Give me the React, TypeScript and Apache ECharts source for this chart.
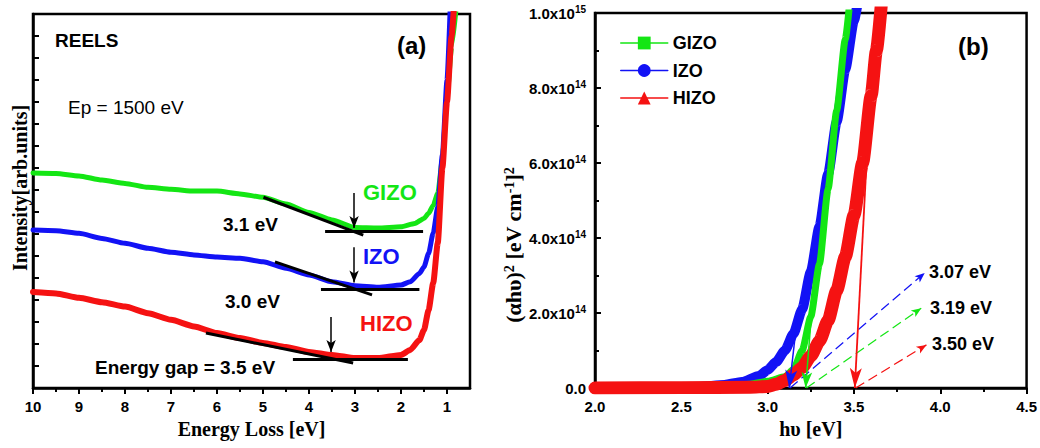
import React, { useEffect, useRef } from 'react';
import * as echarts from 'echarts';

const SANS = "'Liberation Sans', Arial, Helvetica, sans-serif";
const SERIF = "'Liberation Serif', 'Times New Roman', Times, serif";

// ---------- Panel (a): REELS spectra ----------
const reelsTicks = [1, 2, 3, 4, 5, 6, 7, 8, 9, 10];
const reelsMinorTicks = [1.5, 2.5, 3.5, 4.5, 5.5, 6.5, 7.5, 8.5, 9.5];

const gizoReels: number[][] = [
  [10, 9.77], [9.5, 9.75], [9, 9.64], [8.5, 9.45], [8, 9.3], [7.5, 9.12], [7, 9.03], [6.5, 8.95],
  [6, 8.95], [5.5, 8.82], [5, 8.67], [4.5, 8.36], [4, 7.98], [3.5, 7.64], [3, 7.29], [2.5, 7.27],
  [2, 7.33], [1.7, 7.48], [1.5, 7.71], [1.4, 7.94], [1.3, 8.3], [1.2, 8.85], [1.1, 10.4],
  [1.0, 13.2], [0.9, 15.5], [0.8, 17.3],
];
const izoReels: number[][] = [
  [10, 7.18], [9.5, 7.15], [9, 7.03], [8.5, 6.8], [8, 6.58], [7.5, 6.35], [7, 6.17], [6.5, 6.05],
  [6, 5.95], [5.5, 5.9], [5, 5.74], [4.5, 5.44], [4, 5.14], [3.5, 4.83], [3, 4.65], [2.5, 4.58],
  [2, 4.68], [1.8, 4.83], [1.6, 5.21], [1.5, 5.5], [1.4, 6.12], [1.3, 7.05], [1.2, 8.24],
  [1.1, 10.6], [1.0, 14.0], [0.93, 17.3],
];
const hizoReels: number[][] = [
  [10, 4.36], [9.5, 4.3], [9, 4.1], [8.5, 3.9], [8, 3.7], [7.5, 3.4], [7, 3.1], [6.5, 2.8],
  [6, 2.5], [5.5, 2.27], [5, 2.05], [4.5, 1.86], [4, 1.64], [3.5, 1.5], [3, 1.36], [2.5, 1.36],
  [2, 1.5], [1.8, 1.73], [1.6, 2.18], [1.5, 2.64], [1.4, 3.55], [1.3, 4.77], [1.2, 6.6],
  [1.1, 10.0], [1.0, 13.0], [0.9, 16.0], [0.85, 17.3],
];

// tangent lines, baselines and arrows of panel (a): [from, to]
const gizoTangent = [[4.99, 8.67], [2.82, 6.95]];
const gizoBase = [[3.65, 7.14], [1.52, 7.14]];
const gizoArrow = [[3.02, 8.86], [3.02, 7.27]];
const izoTangent = [[4.74, 5.73], [2.63, 4.23]];
const izoBase = [[3.74, 4.5], [1.6, 4.5]];
const izoArrow = [[3.02, 6.4], [3.02, 4.8]];
const hizoTangent = [[6.24, 2.5], [3.04, 1.14]];
const hizoBase = [[4.35, 1.32], [1.85, 1.32]];
const hizoArrow = [[3.52, 3.23], [3.52, 1.64]];

// ---------- Panel (b): Tauc plot ----------
const E15 = 1e15;
const izoTauc: number[][] = [
  [2.0, 0], [2.3, 0.001], [2.6, 0.003], [2.75, 0.008], [2.85, 0.016], [2.95, 0.032], [3.0, 0.048],
  [3.05, 0.07], [3.1, 0.1], [3.15, 0.145], [3.2, 0.21], [3.25, 0.31], [3.3, 0.43], [3.35, 0.57],
  [3.4, 0.71], [3.45, 0.85], [3.5, 0.98], [3.53, 1.05],
].map(([x, y]) => [x, y * E15]);
const gizoTauc: number[][] = [
  [2.0, 0], [2.5, 0.001], [2.75, 0.004], [2.9, 0.01], [3.0, 0.018], [3.1, 0.03], [3.15, 0.05],
  [3.2, 0.1], [3.25, 0.19], [3.3, 0.33], [3.35, 0.53], [3.4, 0.74], [3.45, 0.93], [3.48, 1.05],
].map(([x, y]) => [x, y * E15]);
const hizoTauc: number[][] = [
  [2.0, 0], [2.5, 0.001], [2.9, 0.002], [3.0, 0.004], [3.05, 0.01], [3.1, 0.02], [3.15, 0.035],
  [3.2, 0.055], [3.25, 0.085], [3.3, 0.125], [3.35, 0.18], [3.4, 0.26], [3.45, 0.35], [3.5, 0.46],
  [3.55, 0.6], [3.6, 0.78], [3.63, 0.9], [3.66, 1.03],
].map(([x, y]) => [x, y * E15]);

const izoFit = [[3.175, 0.2 * E15], [3.125, 0]];
const gizoFit = [[3.265, 0.26 * E15], [3.22, 0]];
const hizoFit = [[3.575, 0.62 * E15], [3.505, 0]];
const izoPointer = [[3.13, 0], [3.91, 0.307 * E15]];
const gizoPointer = [[3.225, 0], [3.89, 0.213 * E15]];
const hizoPointer = [[3.51, 0], [3.92, 0.115 * E15]];

const tickLabelsA = reelsTicks.map(String);
const gapLabels = ['3.07 eV', '3.19 eV', '3.50 eV'];
const legendNames = ['GIZO', 'IZO', 'HIZO'];

const GREEN = '#14e614';
const BLUE = '#1212f5';
const RED = '#f51212';

function seg(pts: number[][], color: string, width: number, type: any, arrow: boolean, size: number[] = [7, 12]) {
  return [
    { coord: pts[0], symbol: 'none', lineStyle: { color, width, type } },
    { coord: pts[1], symbol: arrow ? 'arrow' : 'none', symbolSize: size, itemStyle: { color } },
  ];
}

function markLines(items: any[]) {
  return {
    silent: true,
    z: 6,
    symbol: ['none', 'none'],
    label: { show: false },
    emphasis: { disabled: true },
    animation: false,
    data: items,
  };
}

const boldSans = (size: number, color = '#000') => ({
  fontFamily: SANS,
  fontWeight: 'bold',
  fontSize: size,
  fill: color,
});

export default function App() {
  const ref = useRef<HTMLDivElement>(null);

  useEffect(() => {
    if (!ref.current) return;
    const chart = echarts.init(ref.current, null, { renderer: 'svg' });

    const axisLine = { onZero: false, lineStyle: { color: '#000', width: 2.5 } };
    const tickStyle = { color: '#000', width: 2 };

    const option: any = {
      animation: false,
      backgroundColor: '#fff',
      grid: [
        { left: 33, top: 14, width: 437, height: 374, show: true, borderColor: '#000', borderWidth: 2.5, backgroundColor: 'transparent' },
        { left: 595, top: 13, width: 434, height: 375, show: true, borderColor: '#000', borderWidth: 2.5, backgroundColor: 'transparent' },
      ],
      xAxis: [
        {
          gridIndex: 0, type: 'value', inverse: true, min: 0.5, max: 10, position: 'bottom',
          axisLine,
          axisTick: { customValues: reelsTicks, length: 6, lineStyle: tickStyle },
          axisLabel: {
            customValues: reelsTicks, margin: 11, color: '#000', fontFamily: SANS, fontWeight: 'bold', fontSize: 15,
            formatter: (v: number) => tickLabelsA[reelsTicks.indexOf(v)] ?? String(v),
          },
          splitLine: { show: false },
          name: 'Energy Loss [eV]', nameLocation: 'middle', nameGap: 31,
          nameTextStyle: { fontFamily: SERIF, fontWeight: 'bold', fontSize: 20, color: '#000' },
        },
        {
          gridIndex: 0, type: 'value', inverse: true, min: 0.5, max: 10, position: 'bottom',
          axisLine: { show: false, onZero: false },
          axisTick: { customValues: reelsMinorTicks, length: 4, lineStyle: tickStyle },
          axisLabel: { show: false },
          splitLine: { show: false },
        },
        {
          gridIndex: 1, type: 'value', min: 2, max: 4.5, interval: 0.5, position: 'bottom',
          axisLine,
          axisTick: { length: 6, lineStyle: tickStyle },
          minorTick: { show: true, splitNumber: 2, length: 4, lineStyle: tickStyle },
          axisLabel: {
            margin: 11, color: '#000', fontFamily: SANS, fontWeight: 'bold', fontSize: 15,
            formatter: (v: number) => v.toFixed(1),
          },
          splitLine: { show: false },
          name: 'h\u03C5 [eV]', nameLocation: 'middle', nameGap: 31,
          nameTextStyle: { fontFamily: SERIF, fontWeight: 'bold', fontSize: 20, color: '#000' },
        },
      ],
      yAxis: [
        {
          gridIndex: 0, type: 'value', min: 0, max: 17, interval: 1,
          axisLine,
          axisTick: { inside: true, length: 6, lineStyle: tickStyle },
          axisLabel: { show: false },
          splitLine: { show: false },
        },
        {
          gridIndex: 1, type: 'value', min: 0, max: 1e15, interval: 2e14,
          axisLine,
          axisTick: { inside: true, length: 6, lineStyle: tickStyle },
          minorTick: { show: true, splitNumber: 2, length: 4, lineStyle: tickStyle },
          axisLabel: {
            margin: 9,
            formatter: (v: number) => {
              if (v === 0) return '{m|0.0}';
              const e = Math.floor(Math.log10(v) + 1e-9);
              const m = v / Math.pow(10, e);
              return `{m|${m.toFixed(1)}x10}{s|${e}}`;
            },
            rich: {
              m: { fontFamily: SANS, fontWeight: 'bold', fontSize: 15, color: '#000', lineHeight: 18 },
              s: { fontFamily: SANS, fontWeight: 'bold', fontSize: 10, color: '#000', lineHeight: 8, verticalAlign: 'top' },
            },
          },
          splitLine: { show: false },
        },
      ],
      legend: {
        data: legendNames,
        orient: 'vertical',
        left: 615,
        top: 29,
        itemWidth: 47,
        itemHeight: 16,
        itemGap: 9.5,
        selectedMode: false,
        lineStyle: { width: 1.5 },
        textStyle: { fontFamily: SANS, fontWeight: 'bold', fontSize: 18, color: '#000', lineHeight: 16 },
      },
      series: [
        {
          name: 'GIZO (REELS)', type: 'line', xAxisIndex: 0, yAxisIndex: 0, data: gizoReels,
          showSymbol: false, smooth: 0.2, smoothMonotone: 'x', color: GREEN,
          lineStyle: { color: GREEN, width: 5, cap: 'round', join: 'round' },
          markLine: markLines([
            seg(gizoTangent, '#000', 3, 'solid', false),
            seg(gizoBase, '#000', 3, 'solid', false),
            seg(gizoArrow, '#000', 1.5, 'solid', true),
          ]),
        },
        {
          name: 'IZO (REELS)', type: 'line', xAxisIndex: 0, yAxisIndex: 0, data: izoReels,
          showSymbol: false, smooth: 0.2, smoothMonotone: 'x', color: BLUE,
          lineStyle: { color: BLUE, width: 5, cap: 'round', join: 'round' },
          markLine: markLines([
            seg(izoTangent, '#000', 3, 'solid', false),
            seg(izoBase, '#000', 3, 'solid', false),
            seg(izoArrow, '#000', 1.5, 'solid', true),
          ]),
        },
        {
          name: 'HIZO (REELS)', type: 'line', xAxisIndex: 0, yAxisIndex: 0, data: hizoReels,
          showSymbol: false, smooth: 0.2, smoothMonotone: 'x', color: RED,
          lineStyle: { color: RED, width: 6, cap: 'round', join: 'round' },
          markLine: markLines([
            seg(hizoTangent, '#000', 3, 'solid', false),
            seg(hizoBase, '#000', 3, 'solid', false),
            seg(hizoArrow, '#000', 1.5, 'solid', true),
          ]),
        },
        {
          name: 'IZO', type: 'line', xAxisIndex: 2, yAxisIndex: 1, data: izoTauc,
          showSymbol: false, symbol: 'circle', smooth: 0.2, smoothMonotone: 'x', color: BLUE,
          itemStyle: { color: BLUE },
          lineStyle: { color: BLUE, width: 10, cap: 'round', join: 'round' },
          markLine: markLines([
            seg(izoFit, BLUE, 1.5, 'solid', true, [9, 18]),
            seg(izoPointer, BLUE, 1.2, [10, 5], true, [6, 10]),
          ]),
        },
        {
          name: 'GIZO', type: 'line', xAxisIndex: 2, yAxisIndex: 1, data: gizoTauc,
          showSymbol: false, symbol: 'rect', smooth: 0.2, smoothMonotone: 'x', color: GREEN,
          itemStyle: { color: GREEN },
          lineStyle: { color: GREEN, width: 7, cap: 'round', join: 'round' },
          markLine: markLines([
            seg(gizoFit, GREEN, 1.5, 'solid', true, [8, 16]),
            seg(gizoPointer, GREEN, 1.2, [10, 5], true, [6, 10]),
          ]),
        },
        {
          name: 'HIZO', type: 'line', xAxisIndex: 2, yAxisIndex: 1, data: hizoTauc,
          showSymbol: false, symbol: 'triangle', smooth: 0.2, smoothMonotone: 'x', color: RED,
          itemStyle: { color: RED },
          lineStyle: { color: RED, width: 13, cap: 'round', join: 'round' },
          markLine: markLines([
            seg(hizoFit, RED, 1.8, 'solid', true, [9, 20]),
            seg(hizoPointer, RED, 1.2, [10, 5], true, [6, 10]),
          ]),
        },
      ],
      graphic: [
        {
          type: 'text', x: 20, y: 188, rotation: Math.PI / 2, silent: true,
          style: { text: 'Intensity[arb.units]', fontFamily: SERIF, fontWeight: 'bold', fontSize: 20, fill: '#000', align: 'center', verticalAlign: 'middle' },
        },
        {
          type: 'text', x: 513, y: 245, rotation: Math.PI / 2, silent: true,
          style: {
            text: '(\u03B1h\u03C5){s|2} [eV cm{s|-1}]{s|2}',
            fontFamily: SERIF, fontWeight: 'bold', fontSize: 22, fill: '#000', align: 'center', verticalAlign: 'middle',
            rich: {
              s: { fontFamily: SERIF, fontWeight: 'bold', fontSize: 14, fill: '#000', lineHeight: 12, verticalAlign: 'top' },
            },
          },
        },
        { type: 'text', x: 55, y: 40, silent: true, style: { text: 'REELS', ...boldSans(19), verticalAlign: 'middle' } },
        { type: 'text', x: 397, y: 45, silent: true, style: { text: '(a)', ...boldSans(24), verticalAlign: 'middle' } },
        { type: 'text', x: 68, y: 107, silent: true, style: { text: 'Ep = 1500 eV', fontFamily: SANS, fontSize: 19, fill: '#000', verticalAlign: 'middle' } },
        { type: 'text', x: 363, y: 192, silent: true, style: { text: 'GIZO', ...boldSans(22, GREEN), verticalAlign: 'middle' } },
        { type: 'text', x: 363, y: 256, silent: true, style: { text: 'IZO', ...boldSans(22, BLUE), verticalAlign: 'middle' } },
        { type: 'text', x: 360, y: 323, silent: true, style: { text: 'HIZO', ...boldSans(22, RED), verticalAlign: 'middle' } },
        { type: 'text', x: 223, y: 224, silent: true, style: { text: '3.1 eV', ...boldSans(19), verticalAlign: 'middle' } },
        { type: 'text', x: 225, y: 301, silent: true, style: { text: '3.0 eV', ...boldSans(19), verticalAlign: 'middle' } },
        { type: 'text', x: 95, y: 367, silent: true, style: { text: 'Energy gap = 3.5 eV', ...boldSans(19), verticalAlign: 'middle' } },
        { type: 'text', x: 958, y: 46, silent: true, style: { text: '(b)', ...boldSans(24), verticalAlign: 'middle' } },
        { type: 'text', x: 929, y: 272, silent: true, style: { text: gapLabels[0], ...boldSans(18), verticalAlign: 'middle' } },
        { type: 'text', x: 930, y: 308, silent: true, style: { text: gapLabels[1], ...boldSans(18), verticalAlign: 'middle' } },
        { type: 'text', x: 932, y: 344, silent: true, style: { text: gapLabels[2], ...boldSans(18), verticalAlign: 'middle' } },
      ],
    };

    chart.setOption(option);
    return () => chart.dispose();
  }, []);

  return (
    <div
      ref={ref}
      style={{ position: 'absolute', left: 0, top: 0, width: 1040, height: 448, background: '#fff' }}
    />
  );
}
